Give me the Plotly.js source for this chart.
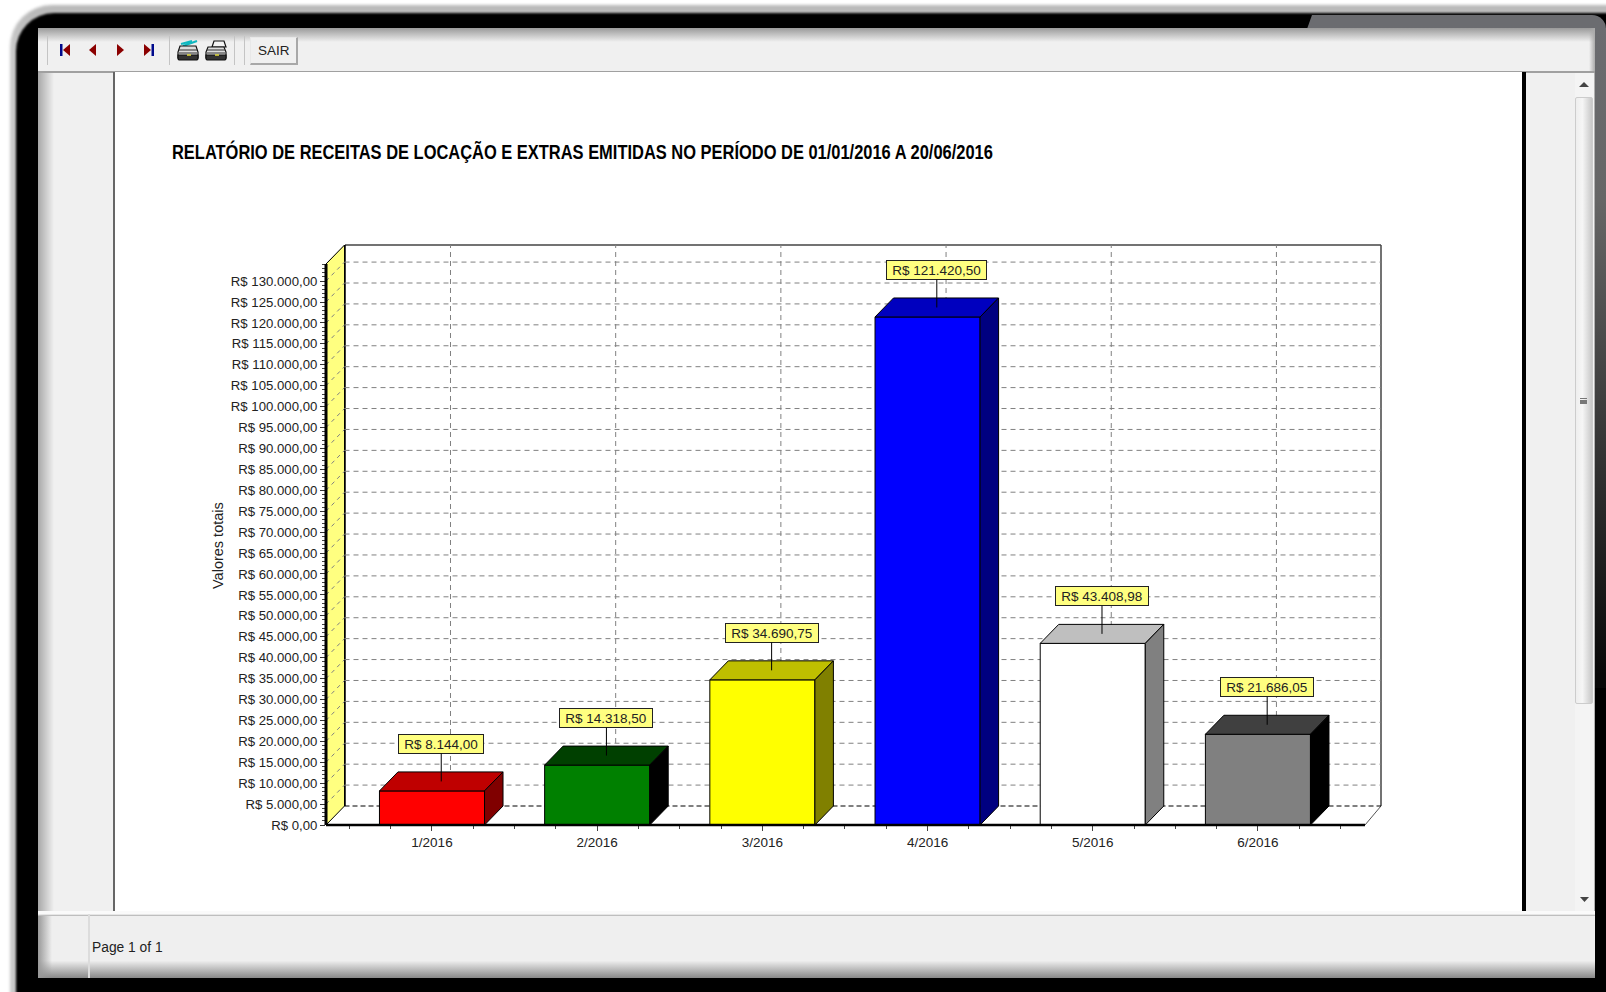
<!DOCTYPE html>
<html>
<head>
<meta charset="utf-8">
<script src="https://cdn.plot.ly/plotly-3.0.1.min.js"></script>
<style>
html,body{margin:0;padding:0;background:#fff;width:1606px;height:992px;overflow:hidden}
.a{position:absolute}
#chart{position:absolute;left:0;top:0;width:1606px;height:992px}
#chart .gtitle{transform-box:fill-box;transform-origin:0 50%;transform:scaleX(.803)}
</style>
</head>
<body>
<!-- window chrome -->
<div class="a" style="left:10px;top:5px;width:1640px;height:1040px;border-radius:42px;background:linear-gradient(180deg,#b8b8b8,#c8c8c8 40px);filter:blur(1.5px)"></div>
<div class="a" style="left:16px;top:13px;width:1640px;height:1030px;border-radius:38px;background:#000;filter:blur(1px)"></div>
<div class="a" style="left:1307px;top:15px;width:299px;height:14px;background:#6b6c70;clip-path:polygon(5px 0,100% 0,100% 100%,0 100%);border-top-right-radius:20px"></div>
<div class="a" style="left:1595px;top:28px;width:11px;height:660px;background:linear-gradient(180deg,#6b6c70,#666 26%,#080808 98%)"></div>
<div class="a" style="left:38px;top:28px;width:1557px;height:950px;background:#f0f0f0"></div>
<div class="a" style="left:38px;top:28px;width:1557px;height:14px;background:linear-gradient(180deg,#9a9a9a,#f0f0f0)"></div>
<div class="a" style="left:38px;top:71px;width:16px;height:840px;background:linear-gradient(90deg,#a8a8a8,#f0f0f0)"></div>
<div class="a" style="left:1589px;top:28px;width:6px;height:950px;background:linear-gradient(90deg,rgba(240,240,240,0),#aaa)"></div>
<div class="a" style="left:38px;top:71px;width:1557px;height:2px;background:#a0a0a0"></div>
<div class="a" style="left:113px;top:72px;width:1409px;height:839px;background:#fff;border-left:2px solid #666;box-sizing:border-box"></div>
<div class="a" style="left:1522px;top:72px;width:4px;height:839px;background:#000"></div>
<div class="a" style="left:1575px;top:73px;width:19px;height:838px;background:#f4f4f4"></div>
<div class="a" style="left:1575px;top:97px;width:18px;height:607px;border:1px solid #ccc;box-sizing:border-box;border-radius:2px;background:linear-gradient(90deg,#eee,#f6f6f6 40%,#c8c8c8)"></div>
<div class="a" style="left:1580px;top:398px;width:7px;height:1px;border-top:1px solid #777;border-bottom:1px solid #777;box-shadow:0 3px 0 #777"></div>
<div class="a" style="left:38px;top:911px;width:1557px;height:5px;background:linear-gradient(180deg,#fafafa,#fafafa 60%,#aaa)"></div>
<div class="a" style="left:38px;top:916px;width:1557px;height:62px;background:linear-gradient(180deg,#efefef,#efefef 72%,#888)"></div>
<div class="a" style="left:38px;top:916px;width:14px;height:62px;background:linear-gradient(90deg,#999,rgba(240,240,240,0))"></div>
<div class="a" style="left:88px;top:914px;width:2px;height:64px;background:#dcdcdc"></div>
<div class="a" style="left:47px;top:36px;width:1px;height:29px;background:#c4c4c4"></div>
<div class="a" style="left:169px;top:36px;width:1px;height:29px;background:#c4c4c4"></div>
<div class="a" style="left:234px;top:36px;width:1px;height:29px;background:#c4c4c4"></div>
<div class="a" style="left:244px;top:36px;width:1px;height:29px;background:#c4c4c4"></div>
<div class="a" style="left:250px;top:37px;width:48px;height:28px;box-sizing:border-box;background:#f0f0f0;border:1px solid #e8e8e8;border-right:2px solid #a8a8a8;border-bottom:2px solid #a8a8a8"></div>
<svg class="a" style="left:0;top:0" width="1606" height="992">
  <g fill="#8b0000">
    <rect x="60" y="44" width="2.5" height="12" fill="#000a8c"/><path d="M70 44V56L63 50Z"/>
    <path d="M96 44V56L89 50Z"/>
    <path d="M117 44V56L124 50Z"/>
    <path d="M144 44V56L151 50Z"/><rect x="151.5" y="44" width="2.5" height="12" fill="#000a8c"/>
  </g>
  <g stroke="#111" stroke-width="1.2" fill="none">
    <path d="M183 46L197 41M181 44L192 41" stroke="#10b8c0" stroke-width="2"/>
    <path d="M180 46H196L198 52V58H178V52Z" fill="#ddd"/>
    <path d="M179 50H197M179 53H197" stroke="#333"/>
    <path d="M178 55H198V58Q198 60 196 60H180Q178 60 178 58Z" fill="#333"/>
    <path d="M187 55H191" stroke="#e8e040" stroke-width="1.5"/>
    <path d="M214 41H224L226 47H212Z" fill="#f4f4f4"/>
    <path d="M208 47H224L226 52V58H206V52Z" fill="#ddd"/>
    <path d="M207 50H225M207 53H225" stroke="#333"/>
    <path d="M206 55H226V58Q226 60 224 60H208Q206 60 206 58Z" fill="#333"/>
    <path d="M215 55H219" stroke="#e8e040" stroke-width="1.5"/>
  </g>
  <path d="M1579 87L1584 82L1589 87Z" fill="#444"/>
  <path d="M1580 897H1589L1584.5 902Z" fill="#444"/>
</svg>
<div id="chart"></div>
<script>
// ---- data ----
const categories = ['1/2016','2/2016','3/2016','4/2016','5/2016','6/2016'];
const values = [8144.00, 14318.50, 34690.75, 121420.50, 43408.98, 21686.05];
const frontColors = ['#ff0000','#008000','#ffff00','#0000ff','#ffffff','#808080'];
const topColors   = ['#bf0000','#004000','#bfbf00','#0000bf','#bfbfbf','#404040'];
const sideColors  = ['#800000','#000000','#808000','#000080','#808080','#000000'];
const yTickValues = [0,5000,10000,15000,20000,25000,30000,35000,40000,45000,50000,55000,60000,65000,70000,75000,80000,85000,90000,95000,100000,105000,110000,115000,120000,125000,130000];
const titleText = 'RELATÓRIO DE RECEITAS DE LOCAÇÃO E EXTRAS EMITIDAS NO PERÍODO DE 01/01/2016 A 20/06/2016';
const yTitleText = 'Valores totais';

// ---- helpers ----
const W = 1606, H = 992;
const fmt = v => 'R$ ' + v.toFixed(2).replace('.',',').replace(/\B(?=(\d{3})+(?!\d))/g,'.');
const px = x => x / W, py = y => 1 - y / H;
const catIdx = categories.map((_,i)=>i);

// axis geometry
const xMin = -0.6416, xFrontMax = 5.648, xMax = 5.745;
const yFrontMax = 134080, yMax = 138623;
const depthX = 0.112, depthY = 4541, barW = 0.636;
const minorYTicks = [];
for (let t = 0; t <= 134000; t += 1000) minorYTicks.push(t);

const FONT = '"Liberation Sans", Arial, sans-serif';
const shapes = [];
const line = (x0,y0,x1,y1,color,width,dash,layer) => shapes.push({type:'line',xref:'x',yref:'y',x0,y0,x1,y1,layer:layer||'below',line:{color,width,dash:dash||'solid'}});
const frameLine = (x0,y0,x1,y1,color,width,layer) => shapes.push({type:'line',xref:'paper',yref:'paper',x0:px(x0),y0:py(y0),x1:px(x1),y1:py(y1),layer:layer||'below',line:{color,width}});
const poly = (pts,fill,layer) => shapes.push({type:'path',xref:'x',yref:'y',layer:layer||'below',fillcolor:fill,line:{color:'#000',width:1},
   path:'M'+pts.map(p=>p[0]+','+p[1]).join(' L')+' Z'});

// left wall
poly([[xMin,0],[xMin+depthX,depthY],[xMin+depthX,yMax],[xMin,yFrontMax]],'#ffff80');
// back wall grid
yTickValues.slice(1).forEach(v=>{
  line(xMin+depthX,v+depthY,xMax,v+depthY,'#808080',1,'5px,4px');
  line(xMin,v,xMin+depthX,v+depthY,'#808080',1,'4px,4px');
});
catIdx.forEach(i=>line(i+depthX,depthY,i+depthX,yMax,'#808080',1,'5px,4px'));
line(xMin+depthX,depthY,xMax,depthY,'#000',1,'5px,3px');
// bar depth faces
values.forEach((v,i)=>{
  const l=i-barW/2, r=i+barW/2;
  poly([[l,v],[r,v],[r+depthX,v+depthY],[l+depthX,v+depthY]],topColors[i],'above');
  poly([[r,0],[r+depthX,depthY],[r+depthX,v+depthY],[r,v]],sideColors[i],'above');
});
// chart frame (not clipped by the plot area)
frameLine(345,245,1381,245,'#444',1.5);
frameLine(1381,245,1381,806,'#444',1.5);
frameLine(1365,825,1381,806,'#555',1);
frameLine(326,264,345,245,'#222',1);
frameLine(345,245,345,806,'#000',1.5);
frameLine(326,825,1365,825,'#000',2.5,'above');
frameLine(326,825,326,264,'#000',3,'above');

// value callouts
const annotations = values.map((v,i)=>({
  x:i+depthX/2, y:v+depthY/2, xref:'x', yref:'y', text:'&nbsp;'+fmt(v)+'&nbsp;', showarrow:true, arrowhead:0, arrowwidth:1, arrowcolor:'#000',
  ax:0, ay:-37.5, standoff:0, startstandoff:0, bgcolor:'#ffff80', bordercolor:'#222', borderwidth:1, borderpad:1.5,
  font:{family:FONT,size:13.5,color:'#222'}
}));
const pageText = (text,x,y,anchor,size,angle,color) => annotations.push({
  xref:'paper',yref:'paper',x:px(x),y:py(y),text,showarrow:false,xanchor:anchor,yanchor:'middle',textangle:angle||0,
  font:{family:FONT,size,color:color||'#222'}
});
pageText(yTitleText,218,545,'center',14.5,-90);
pageText('SAIR',274,51,'center',13.5);
pageText('Page 1 of 1',90,947,'left',13.8);

const trace = {
  type:'bar', x:catIdx, y:values, width:barW,
  marker:{color:frontColors,line:{color:'#000',width:1}},
  hoverinfo:'skip', showlegend:false
};
const layout = {
  width:W, height:H, margin:{l:0,r:0,t:0,b:0,pad:0}, autosize:false,
  paper_bgcolor:'rgba(0,0,0,0)', plot_bgcolor:'rgba(0,0,0,0)', showlegend:false,
  title:{text:'<b>'+titleText+'</b>', x:px(172), y:py(152), xref:'paper', yref:'paper', xanchor:'left', yanchor:'middle',
         font:{family:FONT,size:20.5,color:'#000'}},
  xaxis:{type:'linear', domain:[px(326),px(1381)], range:[xMin,xMax], anchor:'y',
         tickmode:'array', tickvals:catIdx, ticktext:categories, ticks:'outside', ticklen:5, tickwidth:1, tickcolor:'#444',
         showgrid:false, zeroline:false, showline:false,
         tickfont:{family:FONT,size:13.5,color:'#222'},
         minor:{tickmode:'linear',tick0:0,dtick:0.25,ticks:'outside',ticklen:3,tickcolor:'#444',showgrid:false}},
  yaxis:{type:'linear', domain:[py(825),py(245)], range:[0,yMax], anchor:'x',
         tickmode:'array', tickvals:yTickValues, ticktext:yTickValues.map(fmt), ticks:'outside', ticklen:5, tickwidth:1, tickcolor:'#333',
         showgrid:false, zeroline:false, showline:false,
         tickfont:{family:FONT,size:13.2,color:'#222'},
         minor:{tickmode:'array',tickvals:minorYTicks,ticks:'outside',ticklen:3,tickcolor:'#444',showgrid:false}},
  shapes, annotations
};
Plotly.newPlot('chart',[trace],layout,{displayModeBar:false,staticPlot:true,responsive:false});
</script>
</body>
</html>
